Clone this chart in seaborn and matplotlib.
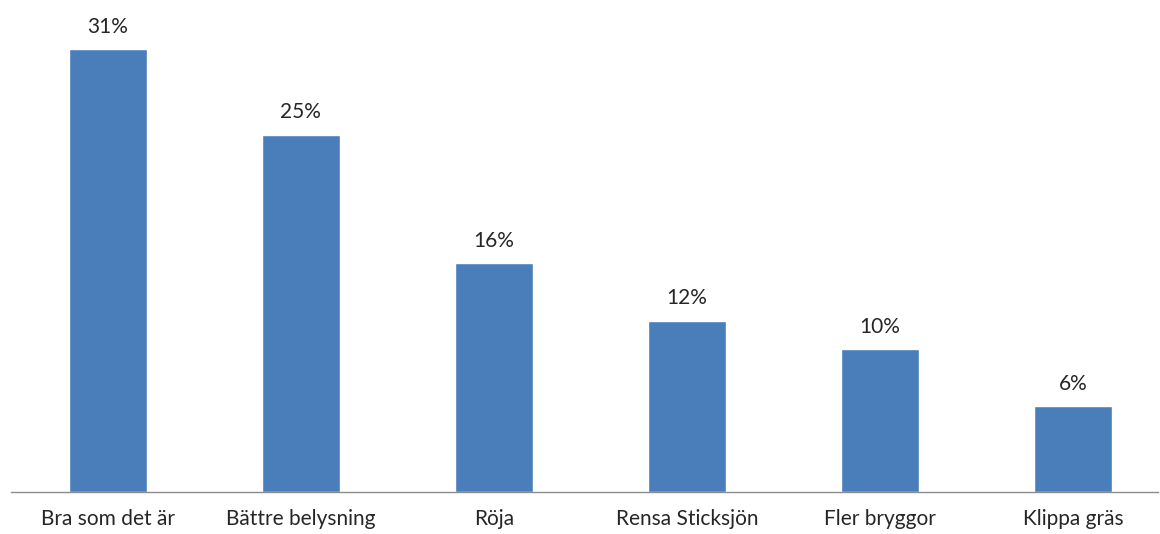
import matplotlib
matplotlib.use("Agg")
import matplotlib.pyplot as plt
import seaborn as sns
import pandas as pd

categories = ["Bra som det är", "Bättre belysning", "Röja",
              "Rensa Sticksjön", "Fler bryggor", "Klippa gräs"]
shares = [31, 25, 16, 12, 10, 6]

df = pd.DataFrame({"category": categories, "share": shares})

sns.set_style("white")
plt.rcParams["font.family"] = ["Lato", "DejaVu Sans"]

fig = plt.figure(figsize=(11.6, 5.34), dpi=100)
ax = fig.add_axes([11 / 1160, 42 / 534, 1147 / 1160, 492 / 534])

sns.barplot(data=df, x="category", y="share", color="#4a7ebb",
            saturation=1, width=0.404, ax=ax)

for i, v in enumerate(shares):
    ax.annotate(f"{v}%", (i, v), xytext=(0, 9), textcoords="offset points",
                ha="center", va="bottom", fontsize=15, color="#262626")

ax.set_ylim(0, 34.43)
ax.set_xlim(-0.5, 5.44)
ax.set_yticks([])
ax.set_xlabel("")
ax.set_ylabel("")
ax.tick_params(axis="x", length=0, pad=12, labelsize=15, labelcolor="#262626")
for side in ["top", "right", "left"]:
    ax.spines[side].set_visible(False)
ax.spines["bottom"].set_color("#8c8c8c")
ax.spines["bottom"].set_linewidth(1)

fig.savefig("out.png", dpi=100)
